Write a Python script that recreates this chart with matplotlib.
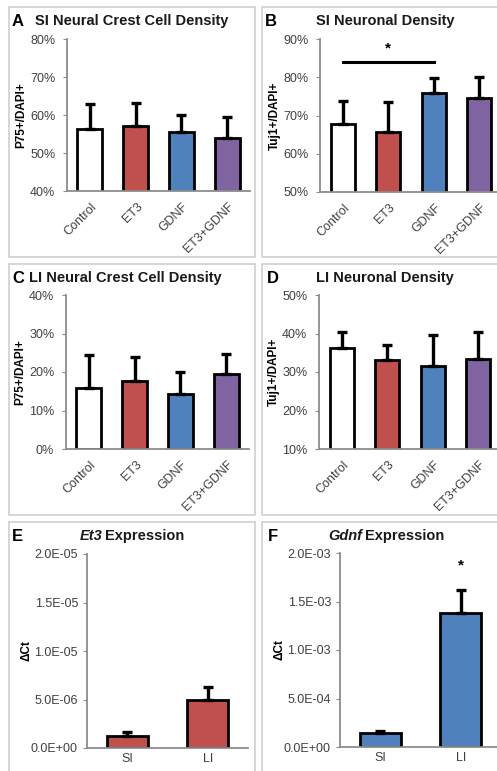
import matplotlib
matplotlib.use("Agg")
import matplotlib.pyplot as plt
import matplotlib.patches as patches
import matplotlib.transforms as mtransforms
import numpy as np

plt.rcParams['font.family'] = ['Liberation Sans', 'DejaVu Sans']

W, H = 497, 771

groups = ["Control", "ET3", "GDNF", "ET3+GDNF"]
group_colors = ["white", "#C0504D", "#4F81BD", "#8064A2"]

# panel values (percent) and upper error bar tops
si_ncc = [56.3, 57.0, 55.6, 54.0]
si_ncc_top = [62.8, 63.2, 60.0, 59.6]
si_neu = [67.9, 65.6, 76.0, 74.5]
si_neu_top = [73.8, 73.5, 79.9, 80.1]
li_ncc = [15.9, 17.6, 14.4, 19.6]
li_ncc_top = [24.3, 24.0, 20.0, 24.8]
li_neu = [36.3, 33.2, 31.5, 33.4]
li_neu_top = [40.4, 37.1, 39.6, 40.4]

tissues = ["SI", "LI"]
et3_expr = [1.2e-6, 4.9e-6]
et3_expr_top = [1.65e-6, 6.3e-6]
gdnf_expr = [1.45e-4, 1.385e-3]
gdnf_expr_top = [1.6e-4, 1.615e-3]


def px_rect(x0, y0, x1, y1):
    return [x0 / W, 1 - y1 / H, (x1 - x0) / W, (y1 - y0) / H]


def bar_panel(fig, rect, labels, vals, tops, colors, ylim, yticks, ylabel, fmt,
              width, rotate, label_x, ypad):
    ax = fig.add_axes(rect)
    x = np.arange(len(vals))
    ax.bar(x, vals, width=width, color=colors, edgecolor="black", linewidth=2.0, zorder=2)
    err = np.array(tops) - np.array(vals)
    ax.errorbar(x, vals, yerr=[np.zeros(len(vals)), err], fmt="none", ecolor="black",
                elinewidth=2.4, capsize=3.5, capthick=2.4, zorder=3)
    ax.set_xlim(-0.5, len(vals) - 0.5)
    ax.set_ylim(*ylim)
    ax.set_yticks(yticks)
    ax.set_yticklabels([fmt(v) for v in yticks])
    ax.set_xticks(x)
    for s in ["top", "right"]:
        ax.spines[s].set_visible(False)
    for s in ["left", "bottom"]:
        ax.spines[s].set_color("#8C8C8C")
        ax.spines[s].set_linewidth(1.3)
    ax.tick_params(axis="y", length=3, color="#8C8C8C", labelsize=9, labelcolor="#404040", pad=ypad)
    ax.tick_params(axis="x", length=0, labelsize=9, labelcolor="#404040")
    if rotate:
        ax.set_xticklabels(labels, rotation=45, ha="right", va="center", rotation_mode="anchor")
        off = mtransforms.ScaledTranslation(5 / 100, -9 / 100, fig.dpi_scale_trans)
        for t in ax.get_xticklabels():
            t.set_transform(t.get_transform() + off)
    else:
        ax.set_xticklabels(labels)
    ax.set_ylabel(ylabel, fontsize=8.5, fontweight="bold")
    ax.yaxis.set_label_coords(label_x, 0.5)
    ax.patch.set_alpha(0)
    return ax


fig = plt.figure(figsize=(W / 100, H / 100), dpi=100)

# light panel frames
for (x0, y0, x1, y1) in [(9, 7, 255, 257), (262, 7, 505, 257),
                         (9, 264, 255, 515), (262, 264, 505, 515),
                         (9, 522, 255, 780), (262, 522, 505, 780)]:
    fig.add_artist(patches.Rectangle((x0 / W, 1 - y1 / H), (x1 - x0) / W, (y1 - y0) / H,
                                     transform=fig.transFigure, fill=False,
                                     edgecolor="#D0D0D0", linewidth=1.2))

pct = lambda v: "%d%%" % v
sci = lambda v: "{:.1E}".format(v)

axA = bar_panel(fig, px_rect(67, 39, 250, 191), groups, si_ncc, si_ncc_top, group_colors,
                (40, 80), [40, 50, 60, 70, 80], "P75+/DAPI+", pct, 0.55, True, -0.215, 5.5)
axB = bar_panel(fig, px_rect(320, 39, 502, 192), groups, si_neu, si_neu_top, group_colors,
                (50, 90), [50, 60, 70, 80, 90], "Tuj1+/DAPI+", pct, 0.52, True, -0.215, 5.5)
axB.plot([0, 2], [84.1, 84.1], color="black", linewidth=2.2, clip_on=False)
axB.text(1, 85.8, "*", ha="center", va="bottom", fontsize=11, fontweight="bold")

axC = bar_panel(fig, px_rect(66, 295, 249, 449), groups, li_ncc, li_ncc_top, group_colors,
                (0, 40), [0, 10, 20, 30, 40], "P75+/DAPI+", pct, 0.55, True, -0.215, 5.5)
axD = bar_panel(fig, px_rect(319, 295, 501, 449), groups, li_neu, li_neu_top, group_colors,
                (10, 50), [10, 20, 30, 40, 50], "Tuj1+/DAPI+", pct, 0.52, True, -0.215, 5.5)

axE = bar_panel(fig, px_rect(87, 554, 248, 748), tissues, et3_expr, et3_expr_top,
                [group_colors[1]] * 2, (0, 2e-5), [0, 5e-6, 1e-5, 1.5e-5, 2e-5], "\u0394Ct",
                sci, 0.51, False, -0.34, 3.5)
axF = bar_panel(fig, px_rect(340, 553, 501, 747), tissues, gdnf_expr, gdnf_expr_top,
                [group_colors[2]] * 2, (0, 2e-3), [0, 5e-4, 1e-3, 1.5e-3, 2e-3], "\u0394Ct",
                sci, 0.51, False, -0.34, 3.5)
axF.text(1, 1.8e-3, "*", ha="center", va="bottom", fontsize=11, fontweight="bold")

# panel letters and titles
def letter(x, y, s):
    fig.text(x / W, 1 - y / H, s, fontsize=12, fontweight="bold", ha="left", va="baseline")

def title(x, y, s, ha="center", style="normal"):
    fig.text(x / W, 1 - y / H, s, fontsize=10.5, fontweight="bold", ha=ha, va="baseline",
             style=style, color="#1A1A1A")

letter(12, 26, "A")
title(35, 25, "SI Neural Crest Cell Density", ha="left")
letter(265, 26, "B")
title(385, 25, "SI Neuronal Density")
letter(12, 283, "C")
title(29, 282, "LI Neural Crest Cell Density", ha="left")
letter(267, 283, "D")
title(385, 282, "LI Neuronal Density")
letter(12, 541, "E")
title(102, 540, "Et3", ha="right", style="italic")
title(105, 540, "Expression", ha="left")
letter(268, 541, "F")
title(362, 540, "Gdnf", ha="right", style="italic")
title(365, 540, "Expression", ha="left")

fig.savefig("out.png", dpi=100)
